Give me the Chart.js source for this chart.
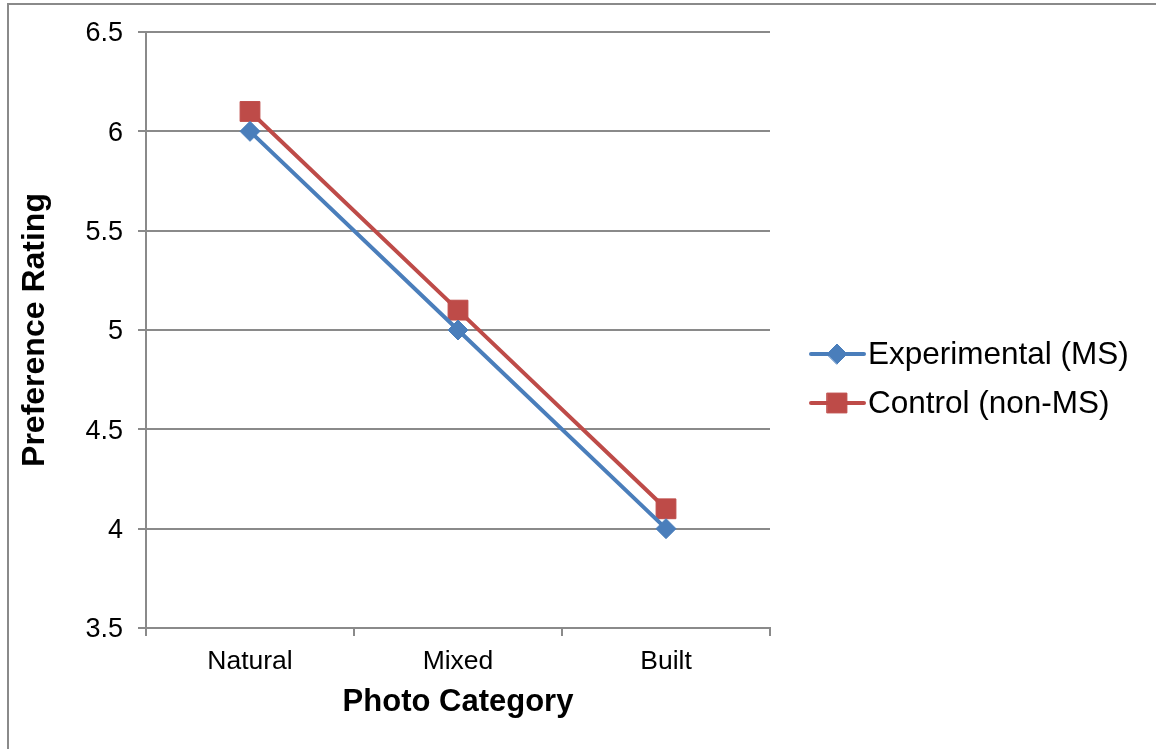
<!DOCTYPE html>
<html>
<head>
<meta charset="utf-8">
<script src="https://cdn.jsdelivr.net/npm/chart.js@4/dist/chart.umd.min.js"></script>
<style>
html, body { margin: 0; padding: 0; background: #fff; }
#wrap { position: relative; width: 1156px; height: 749px; overflow: hidden; }
#frame { position: absolute; left: 7px; top: 3px; width: 1300px; height: 900px;
  border-left: 2px solid #8a8a8a; border-top: 2px solid #8a8a8a; }
canvas { position: absolute; left: 0; top: 0; }
</style>
</head>
<body>
<div id="wrap">
  <div id="frame"></div>
  <canvas id="myChart" width="1156" height="749"></canvas>
</div>
<script>
//categories on the x axis
let categories = ['Natural', 'Mixed', 'Built']

//series values
let experimentalValues = [6, 5, 4]
let controlValues = [6.1, 5.1, 4.1]

//y axis ticks and their labels
let yTicks = [3.5, 4, 4.5, 5, 5.5, 6, 6.5]
let yTickLabels = ['3.5', '4', '4.5', '5', '5.5', '6', '6.5']

let gridColor = '#8a8a8a'
Chart.defaults.font.family = '"Liberation Sans", Arial, sans-serif'
Chart.defaults.color = '#000'

//legend on the right, line + marker + text like the office chart
let sideLegend = {
	id: 'sideLegend',
	afterDraw(chart) {
		let ctx = chart.ctx
		let rows = [354, 403]
		chart.data.datasets.forEach((ds, i) => {
			let y = rows[i]
			ctx.save()
			ctx.strokeStyle = ds.borderColor
			ctx.lineWidth = 4
			ctx.lineCap = 'round'
			ctx.beginPath()
			ctx.moveTo(811, y)
			ctx.lineTo(864, y)
			ctx.stroke()
			ctx.fillStyle = ds.backgroundColor
			ctx.strokeStyle = ds.backgroundColor
			ctx.lineWidth = 1
			Chart.helpers.drawPoint(ctx, { pointStyle: ds.pointStyle, radius: ds.pointRadius, borderWidth: 1 }, 837, y)
			ctx.fillStyle = '#000'
			ctx.font = '31.5px "Liberation Sans", Arial, sans-serif'
			ctx.textBaseline = 'middle'
			ctx.textAlign = 'left'
			ctx.fillText(ds.label, 868, y + 1)
			ctx.restore()
		})
	}
}

let data = {
	labels: categories,
	datasets: [
		{
			label: 'Experimental (MS)',
			data: experimentalValues,
			borderColor: '#4a7ebb',
			backgroundColor: '#4a7ebb',
			borderWidth: 4,
			pointStyle: 'rectRot',
			pointRadius: 10,
			pointBorderWidth: 1,
			tension: 0
		},
		{
			label: 'Control (non-MS)',
			data: controlValues,
			borderColor: '#be4b48',
			backgroundColor: '#be4b48',
			borderWidth: 4,
			pointStyle: 'rect',
			pointRadius: 14,
			pointBorderWidth: 1,
			tension: 0
		}
	]
}

let config = {
	type: 'line',
	data: data,
	options: {
		responsive: false,
		devicePixelRatio: 1,
		animation: false,
		events: [],
		layout: {
			padding: { left: 0, top: 32, right: 386, bottom: 0 }
		},
		plugins: {
			legend: { display: false },
			tooltip: { enabled: false }
		},
		scales: {
			x: {
				type: 'category',
				offset: true,
				grid: {
					offset: true,
					drawOnChartArea: false,
					drawTicks: true,
					tickLength: 8,
					color: gridColor,
					lineWidth: 2
				},
				border: { color: gridColor, width: 2 },
				ticks: { font: { size: 26.5 }, padding: 10, color: '#000' },
				title: {
					display: true,
					text: 'Photo Category',
					font: { size: 31, weight: 'bold' },
					padding: { top: 0, bottom: 28 },
					color: '#000'
				},
				afterFit: (scale) => { scale.height = 121 }
			},
			y: {
				min: 3.5,
				max: 6.5,
				afterBuildTicks: (scale) => {
					scale.ticks = yTicks.map((v) => ({ value: v }))
				},
				grid: {
					tickLength: 8,
					color: gridColor,
					lineWidth: 2
				},
				border: { color: gridColor, width: 2 },
				ticks: {
					font: { size: 27 },
					padding: 15,
					labelOffset: 2,
					color: '#000',
					callback: (value, i) => yTickLabels[i]
				},
				title: {
					display: true,
					text: 'Preference Rating',
					font: { size: 32, weight: 'bold' },
					padding: { top: 16, bottom: 0 },
					color: '#000'
				},
				afterFit: (scale) => { scale.width = 146 }
			}
		}
	},
	plugins: [sideLegend]
}

let chart = new Chart(document.getElementById('myChart'), config)
</script>
</body>
</html>
